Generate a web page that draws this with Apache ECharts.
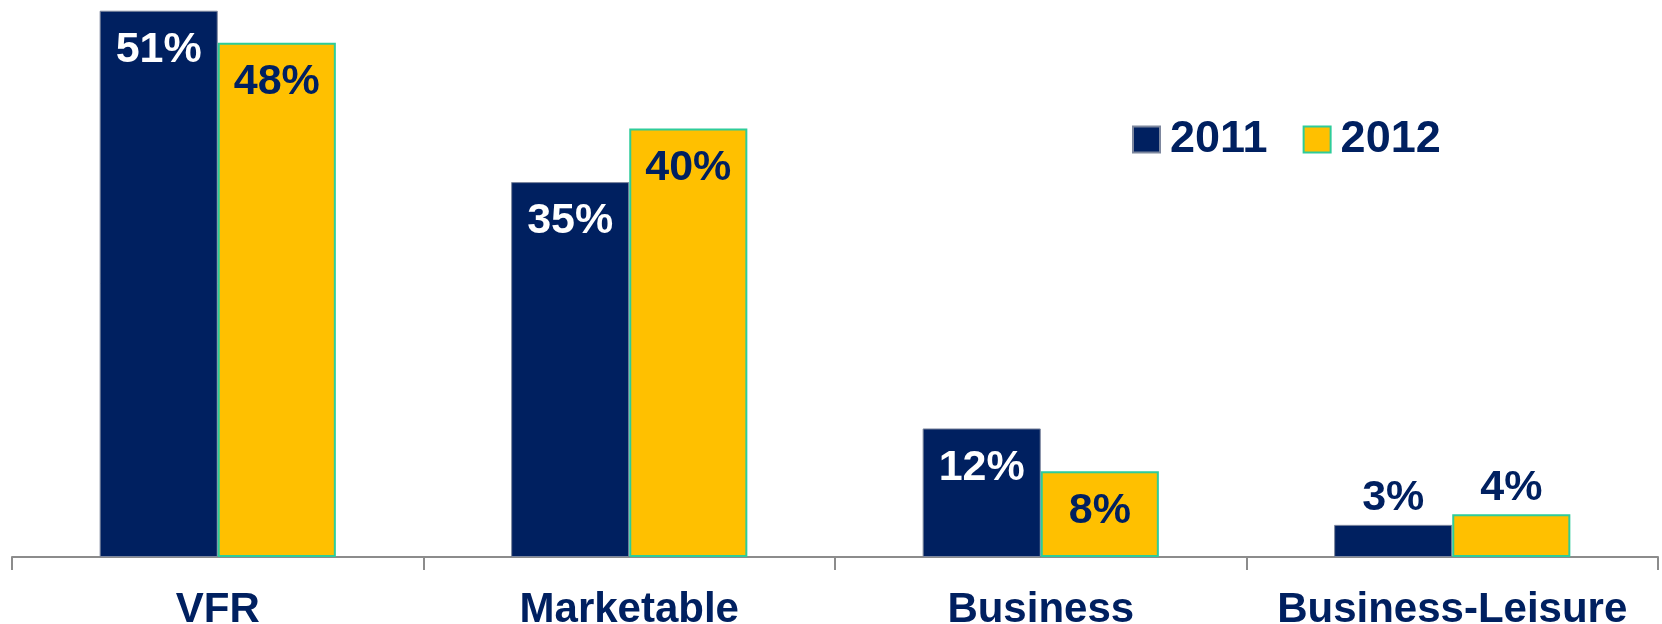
<!DOCTYPE html>
<html>
<head>
<meta charset="utf-8">
<title>Trip purpose share, 2011 vs 2012</title>
<script src="https://cdn.jsdelivr.net/npm/echarts@6/dist/echarts.min.js"></script>
<style>
  html, body { margin: 0; padding: 0; background: #ffffff; }
  #chart { width: 1662px; height: 624px; }
</style>
</head>
<body>
<div id="chart"></div>
<script>
// Share of trips by purpose (%)
const categories = ['VFR', 'Marketable', 'Business', 'Business-Leisure'];
const seriesNames = ['2011', '2012'];
const values2011 = [51, 35, 12, 3];
const values2012 = [48, 40, 8, 4];

const NAVY = '#002060';
const GOLD = '#FFC000';
const TEAL = '#2ECC9A';
const FONT = '"Liberation Sans", Arial, sans-serif';

// Small bars get their value written above the bar instead of inside it
const SMALL = 6;

function labelFor(value, insideColor) {
  const small = value < SMALL;
  return {
    show: true,
    position: small ? 'top' : 'insideTop',
    distance: small ? 5 : 18,
    formatter: '{c}%',
    color: small ? NAVY : insideColor,
    fontFamily: FONT,
    fontWeight: 'bold',
    fontSize: 43
  };
}

function buildData(values, insideColor) {
  return values.map(v => ({ value: v, label: labelFor(v, insideColor) }));
}

const chart = echarts.init(document.getElementById('chart'), null, { renderer: 'canvas' });

chart.setOption({
  animation: false,
  backgroundColor: '#ffffff',
  grid: {
    left: 12, right: 4, top: 0, bottom: 67,
    containLabel: false,
    outerBoundsMode: 'none'
  },
  legend: {
    left: 1132,
    top: 117,
    padding: 0,
    itemWidth: 27,
    itemHeight: 26,
    itemGap: 35,
    textStyle: {
      color: NAVY,
      fontFamily: FONT,
      fontWeight: 'bold',
      fontSize: 45,
      padding: [0, 0, 0, 5]
    },
    data: [
      { name: seriesNames[0], icon: 'rect' },
      { name: seriesNames[1], icon: 'rect' }
    ]
  },
  xAxis: {
    type: 'category',
    data: categories,
    axisLine: { lineStyle: { color: '#8c8c8c', width: 2 } },
    axisTick: { show: true, interval: 0, length: 13, lineStyle: { color: '#8c8c8c', width: 2 } },
    axisLabel: {
      interval: 0,
      margin: 32,
      color: NAVY,
      fontFamily: FONT,
      fontWeight: 'bold',
      fontSize: 42
    }
  },
  yAxis: {
    type: 'value',
    min: 0,
    max: 52,
    show: false,
    splitLine: { show: false }
  },
  series: [
    {
      name: seriesNames[0],
      type: 'bar',
      barWidth: '28.7%',
      barGap: '0%',
      itemStyle: { color: NAVY, borderColor: '#7d879e', borderWidth: 1 },
      data: buildData(values2011, '#ffffff')
    },
    {
      name: seriesNames[1],
      type: 'bar',
      barWidth: '28.7%',
      barGap: '0%',
      itemStyle: { color: GOLD, borderColor: TEAL, borderWidth: 2 },
      data: buildData(values2012, NAVY)
    }
  ]
});
</script>
</body>
</html>
